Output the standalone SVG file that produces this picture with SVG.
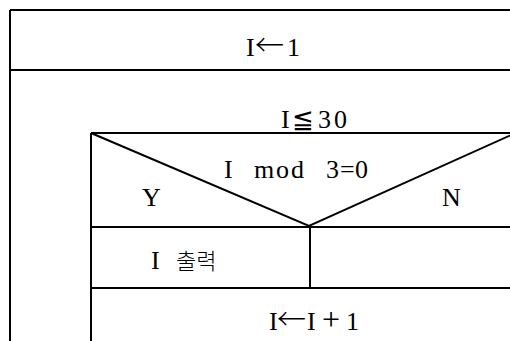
<svg xmlns="http://www.w3.org/2000/svg" width="510" height="341" viewBox="0 0 510 341">
<style>
.ln{stroke:#000;stroke-width:2;fill:none}
.t{font-family:"Liberation Serif","Noto Sans CJK KR",serif;font-size:26px;fill:#000}
.ar{font-family:"Noto Sans CJK KR",sans-serif;font-size:29px;font-weight:300}
.le{font-family:"DejaVu Sans","Noto Sans CJK KR",sans-serif;font-size:26px}
.k{font-family:"Noto Sans CJK KR",sans-serif;font-size:22px;font-weight:300}
</style>
<rect width="510" height="341" fill="#fff"/>
<g id="connectors">
<path class="ln" d="M10,10 H520 M10,10 V341 M10,70 H520"/>
<path class="ln" d="M91,133 H520 M91,133 V341 M91,227 H520 M91,288 H520 M310,227 V288"/>
<path class="ln" d="M91,133 L309,226 L520,131"/>
</g>
<g id="init"><text class="t" y="56"><tspan x="246">I</tspan><tspan class="ar" x="255">←</tspan><tspan x="287">1</tspan></text></g>
<g id="loop"><text class="t" y="128"><tspan x="281">I</tspan><tspan class="le" x="292">≦</tspan><tspan x="318 334">30</tspan></text></g>
<g id="cond"><text class="t" y="178"><tspan x="224">I</tspan><tspan x="254 276 291">mod</tspan><tspan x="326 340 355">3=0</tspan></text>
<text class="t" x="142" y="206">Y</text>
<text class="t" x="442" y="206">N</text></g>
<g id="yes"><text class="t" y="269"><tspan x="151">I</tspan><tspan class="k" x="176">출력</tspan></text></g>
<g id="no"></g>
<g id="incr"><text class="t" y="330"><tspan x="269">I</tspan><tspan class="ar" x="277">←</tspan><tspan x="307">I</tspan><tspan x="322" font-size="32">+</tspan><tspan x="346">1</tspan></text></g>
</svg>
